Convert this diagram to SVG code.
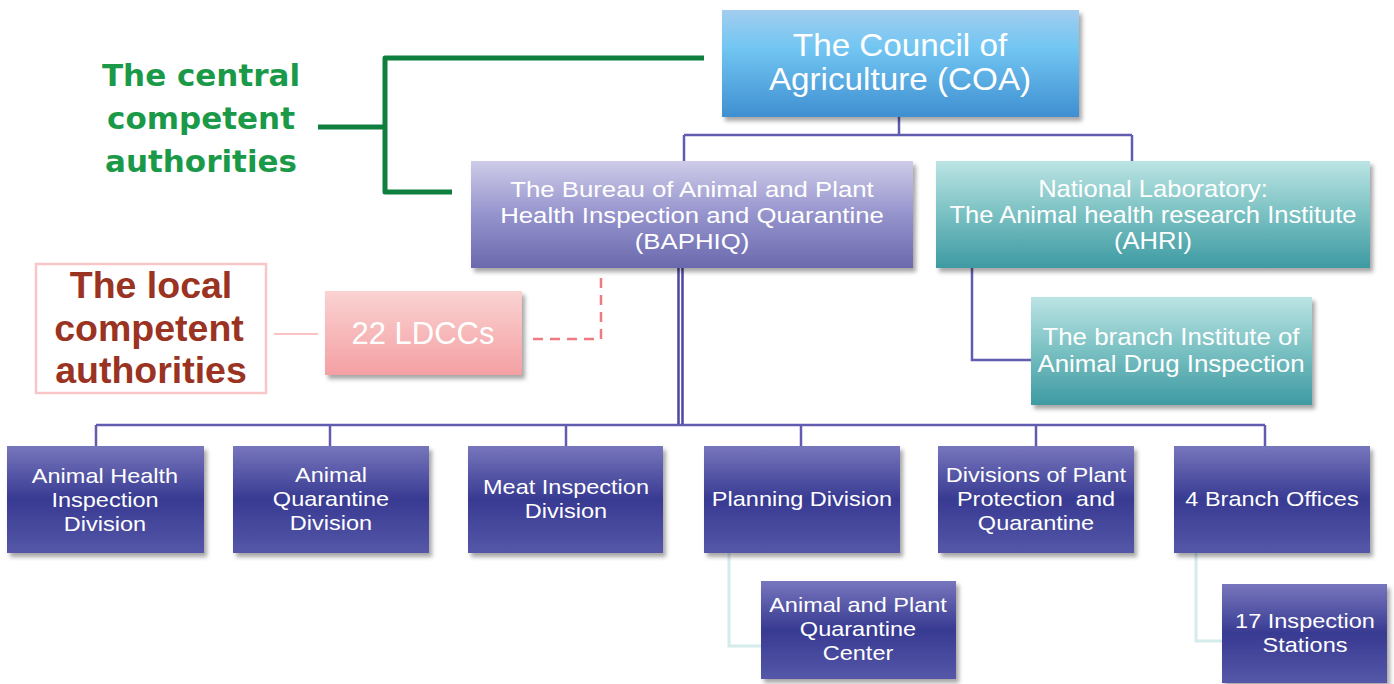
<svg xmlns="http://www.w3.org/2000/svg" width="1394" height="684" viewBox="0 0 1394 684">
<defs>
<linearGradient id="gBlue" x1="0" y1="0" x2="0" y2="1">
<stop offset="0" stop-color="#a2cdef"/><stop offset="0.35" stop-color="#72c6f2"/><stop offset="1" stop-color="#3f8fd1"/>
</linearGradient>
<linearGradient id="gLav" x1="0" y1="0" x2="0" y2="1">
<stop offset="0" stop-color="#cecce8"/><stop offset="0.5" stop-color="#9593cc"/><stop offset="1" stop-color="#6b69ae"/>
</linearGradient>
<linearGradient id="gTeal" x1="0" y1="0" x2="0" y2="1">
<stop offset="0" stop-color="#bce4e4"/><stop offset="0.5" stop-color="#79c0c2"/><stop offset="1" stop-color="#3e9aa2"/>
</linearGradient>
<linearGradient id="gPink" x1="0" y1="0" x2="0" y2="1">
<stop offset="0" stop-color="#fad2d2"/><stop offset="1" stop-color="#f4a0a3"/>
</linearGradient>
<linearGradient id="gNavy" x1="0" y1="0" x2="0" y2="1">
<stop offset="0" stop-color="#7776bd"/><stop offset="0.5" stop-color="#383a92"/><stop offset="1" stop-color="#5557a8"/>
</linearGradient>
<filter id="sh" x="-10%" y="-10%" width="125%" height="130%">
<feDropShadow dx="3" dy="4" stdDeviation="2" flood-color="#000" flood-opacity="0.35"/>
</filter>
<style>
.t{font-family:"Liberation Sans",Arial,sans-serif;fill:#fff;text-anchor:middle}
.big{font-size:30.5px}
.mid{font-size:23px}
.br{font-size:23.5px}
.sm{font-size:21px}
.ldcc{font-size:31px}
.pre{white-space:pre}
.green{font-family:"DejaVu Sans",sans-serif;font-weight:bold;font-size:31px;fill:#1a9a48;text-anchor:middle}
.brown{font-family:"Liberation Sans",Arial,sans-serif;font-weight:bold;font-size:37.5px;fill:#9a3322;text-anchor:middle}
.c{fill:none;stroke:#615cb0;stroke-width:2.5}
.trunk{fill:none;stroke:#4d47a3;stroke-width:2.5}
.lite{fill:none;stroke:#d4ecec;stroke-width:3}
.gr{fill:none;stroke:#0e7f3e;stroke-width:5;stroke-linejoin:round}
.pk{fill:none;stroke:#ee7a82;stroke-width:2.5;stroke-dasharray:10 7}
.pkl{fill:none;stroke:#f7c3c3;stroke-width:2}
</style>
</defs>
<rect width="1394" height="684" fill="#fff"/>

<g id="connectors">
<path class="gr" d="M704 58 H385 V192 H452 M318 127 H385"/>
<path class="c" d="M899 117 V135 M684 135 H1132 M684 135 V161 M1132 135 V161"/>
<path class="trunk" d="M678.5 268 V425 M682.5 268 V425"/>
<path class="c" d="M96 425 H1265 M96 425 V446 M330 425 V446 M566 425 V446 M801 425 V446 M1036 425 V446 M1265 425 V446"/>
<path class="c" d="M972 268 V360 H1031"/>
<path class="pk" d="M601 278 V339 H527"/>
<path class="pkl" d="M274 334 H318"/>
<path class="lite" d="M729 553 V646 H761"/>
<path class="lite" d="M1196 553 V641 H1222"/>
</g>

<g id="central-label">
<text class="green" x="201" y="86">The central</text>
<text class="green" x="201" y="129">competent</text>
<text class="green" x="201" y="172">authorities</text>
</g>

<g id="local-label">
<rect x="36" y="264" width="230" height="129" fill="#fff" stroke="#f8c6c6" stroke-width="2.5"/>
<text class="brown" x="151" y="298">The local</text>
<text class="brown" x="149" y="341">competent</text>
<text class="brown" x="151" y="383">authorities</text>
</g>

<g id="coa">
<rect x="722" y="10" width="357" height="107" fill="url(#gBlue)" filter="url(#sh)"/>
<g transform="translate(900 0) scale(1.09 1)">
<text class="t big" x="0" y="56">The Council of</text>
<text class="t big" x="0" y="90">Agriculture (COA)</text>
</g>
</g>

<g id="baphiq">
<rect x="471" y="161" width="442" height="107" fill="url(#gLav)" filter="url(#sh)"/>
<g transform="translate(692 0) scale(1.12 1)">
<text class="t mid" x="0" y="197">The Bureau of Animal and Plant</text>
<text class="t mid" x="0" y="223">Health Inspection and Quarantine</text>
<text class="t mid" x="0" y="249">(BAPHIQ)</text>
</g>
</g>

<g id="ahri">
<rect x="936" y="161" width="434" height="107" fill="url(#gTeal)" filter="url(#sh)"/>
<g transform="translate(1153 0) scale(1.11 1)">
<text class="t mid" x="0" y="197">National Laboratory:</text>
<text class="t mid" x="0" y="223">The Animal health research Institute</text>
<text class="t mid" x="0" y="249">(AHRI)</text>
</g>
</g>

<g id="branch-institute">
<rect x="1031" y="297" width="281" height="108" fill="url(#gTeal)" filter="url(#sh)"/>
<g transform="translate(1171 0) scale(1.1 1)">
<text class="t br" x="0" y="345">The branch Institute of</text>
<text class="t br" x="0" y="372">Animal Drug Inspection</text>
</g>
</g>

<g id="ldccs">
<rect x="325" y="291" width="197" height="84" fill="url(#gPink)" filter="url(#sh)"/>
<text class="t ldcc" x="423" y="344">22 LDCCs</text>
</g>

<g id="animal-health">
<rect x="7" y="446" width="197" height="107" fill="url(#gNavy)" filter="url(#sh)"/>
<g transform="translate(105 0) scale(1.12 1)">
<text class="t sm" x="0" y="483">Animal Health</text>
<text class="t sm" x="0" y="507">Inspection</text>
<text class="t sm" x="0" y="531">Division</text>
</g>
</g>

<g id="animal-quarantine">
<rect x="233" y="446" width="196" height="107" fill="url(#gNavy)" filter="url(#sh)"/>
<g transform="translate(331 0) scale(1.12 1)">
<text class="t sm" x="0" y="482">Animal</text>
<text class="t sm" x="0" y="506">Quarantine</text>
<text class="t sm" x="0" y="530">Division</text>
</g>
</g>

<g id="meat-inspection">
<rect x="468" y="446" width="195" height="107" fill="url(#gNavy)" filter="url(#sh)"/>
<g transform="translate(566 0) scale(1.12 1)">
<text class="t sm" x="0" y="494">Meat Inspection</text>
<text class="t sm" x="0" y="518">Division</text>
</g>
</g>

<g id="planning">
<rect x="704" y="446" width="196" height="107" fill="url(#gNavy)" filter="url(#sh)"/>
<g transform="translate(802 0) scale(1.12 1)">
<text class="t sm" x="0" y="506">Planning Division</text>
</g>
</g>

<g id="plant-protection">
<rect x="938" y="446" width="196" height="107" fill="url(#gNavy)" filter="url(#sh)"/>
<g transform="translate(1036 0) scale(1.12 1)">
<text class="t sm" x="0" y="482">Divisions of Plant</text>
<text class="t sm pre" x="0" y="506">Protection  and</text>
<text class="t sm" x="0" y="530">Quarantine</text>
</g>
</g>

<g id="branch-offices">
<rect x="1174" y="446" width="196" height="107" fill="url(#gNavy)" filter="url(#sh)"/>
<g transform="translate(1272 0) scale(1.12 1)">
<text class="t sm" x="0" y="506">4 Branch Offices</text>
</g>
</g>

<g id="quarantine-center">
<rect x="761" y="581" width="195" height="98" fill="url(#gNavy)" filter="url(#sh)"/>
<g transform="translate(858 0) scale(1.12 1)">
<text class="t sm" x="0" y="612">Animal and Plant</text>
<text class="t sm" x="0" y="636">Quarantine</text>
<text class="t sm" x="0" y="660">Center</text>
</g>
</g>

<g id="inspection-stations">
<rect x="1222" y="584" width="165" height="99" fill="url(#gNavy)" filter="url(#sh)"/>
<g transform="translate(1305 0) scale(1.12 1)">
<text class="t sm" x="0" y="628">17 Inspection</text>
<text class="t sm" x="0" y="652">Stations</text>
</g>
</g>
</svg>
